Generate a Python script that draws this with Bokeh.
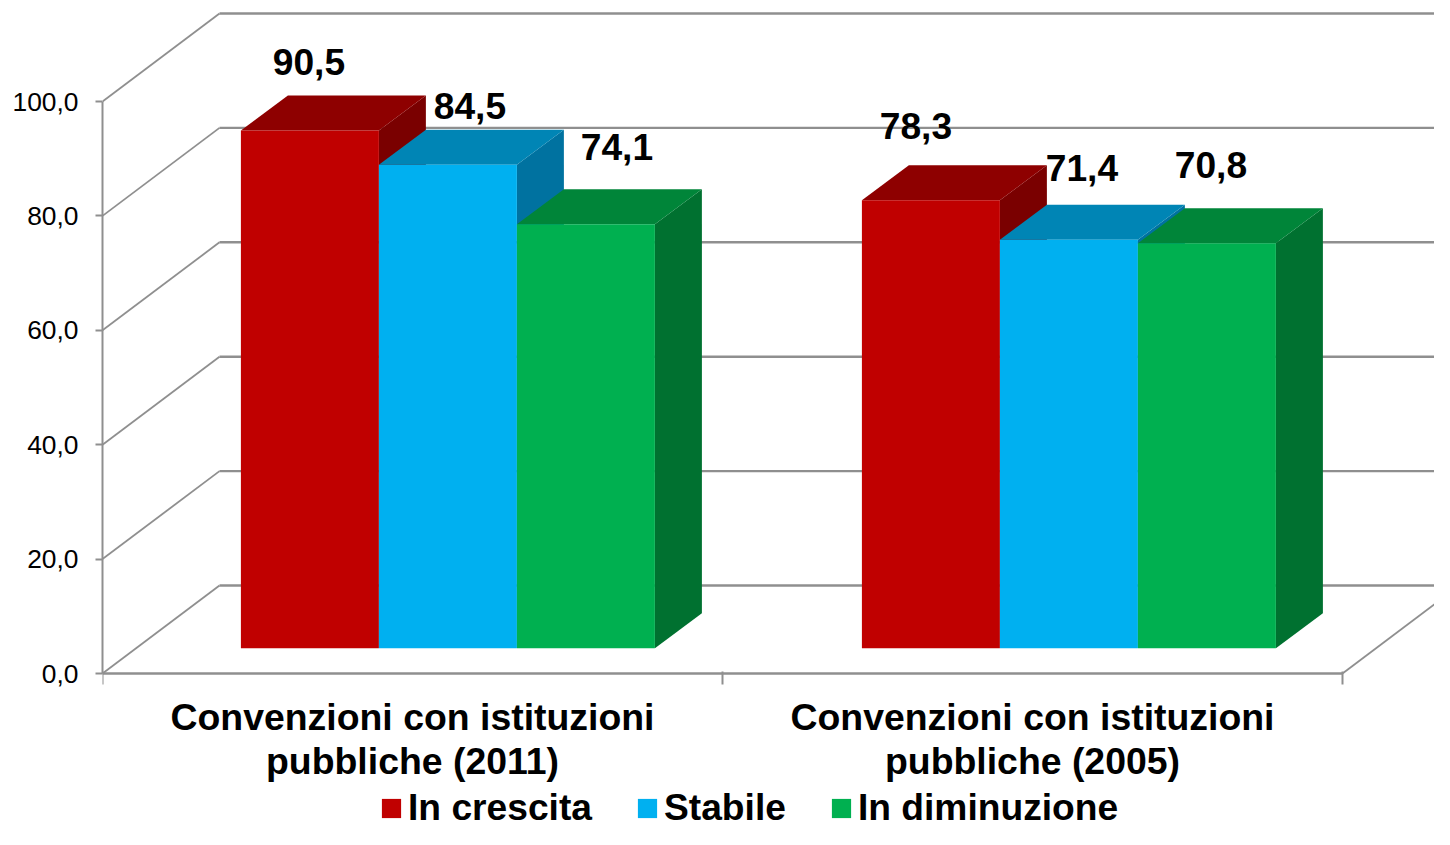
from bokeh.embed import file_html
from bokeh.resources import INLINE
from bokeh.models import ColumnDataSource, FixedTicker, Legend, LegendItem, Range1d
from bokeh.plotting import figure
from bokeh.core.properties import value

categories = ["Convenzioni con istituzioni\npubbliche (2011)", "Convenzioni con istituzioni\npubbliche (2005)"]
series_names = ["In crescita", "Stabile", "In diminuzione"]
in_crescita = [90.5, 78.3]
stabile = [84.5, 71.4]
in_diminuzione = [74.1, 70.8]
y_ticks = [0, 20, 40, 60, 80, 100]
y_labels = ["0,0", "20,0", "40,0", "60,0", "80,0", "100,0"]

FONT = "Liberation Sans"
GRID = "#8f8f8f"
front = ["#C00000", "#00B0F0", "#00B050"]
top = ["#8E0000", "#0085B5", "#008539"]
side = ["#7A0000", "#0072A0", "#007130"]

PX_X, PX_Y = 620.0, 5.72            # pixels per category / per value unit
WALL_DX, WALL_DY = 117 / PX_X, 88 / PX_Y   # depth of the chart box
BAR_DX, BAR_DY = 47 / PX_X, 35 / PX_Y      # depth of each bar
BAR_Y0 = 25.3 / PX_Y                # lift of the bars' front base over the axis
BAR_W = 138 / PX_X
GROUP_START = [138.4 / PX_X, 759.4 / PX_X]
# label offsets from the top front centre of each bar, in pixels (series, group)
LABEL_DX = [[-1, -15], [22, 13], [31, 4]]
LABEL_DY = [[69, 74], [59, 72], [77, 78]]

FRAME_W, FRAME_H = 1332, 829
AXIS_PX = 673                       # pixel row of value 0
p = figure(width=1434, height=829, output_backend="svg", toolbar_location=None,
           x_range=Range1d(0, FRAME_W / PX_X),
           y_range=Range1d((AXIS_PX - FRAME_H) / PX_Y, AXIS_PX / PX_Y),
           frame_width=FRAME_W, frame_height=FRAME_H,
           min_border_left=102, min_border_right=0, min_border_top=0, min_border_bottom=0)
p.outline_line_color = None
p.grid.visible = False
p.background_fill_color = "white"

# axes
ya = p.yaxis[0]
ya.ticker = FixedTicker(ticks=y_ticks, minor_ticks=[])
ya.major_label_overrides = dict(zip(y_ticks, y_labels))
ya.bounds = (0, 100)
ya.axis_line_color = GRID
ya.axis_line_width = 2
ya.major_tick_line_color = GRID
ya.major_tick_line_width = 2
ya.major_tick_out = 7
ya.major_tick_in = 0
ya.major_label_standoff = 17
ya.major_label_text_font = FONT
ya.major_label_text_font_size = "26.4px"
ya.major_label_text_color = "black"

xa = p.xaxis[0]
xa.fixed_location = 0
xa.ticker = FixedTicker(ticks=[0.5, 1.5], minor_ticks=[0, 1, 2])
xa.major_label_overrides = {0.5: categories[0], 1.5: categories[1]}
xa.bounds = (0, 2)
xa.axis_line_color = GRID
xa.axis_line_width = 2.5
xa.major_tick_line_color = None
xa.major_tick_out = 0
xa.major_tick_in = 0
xa.minor_tick_line_color = GRID
xa.minor_tick_line_width = 2
xa.minor_tick_out = 11
xa.minor_tick_in = 2
xa.major_label_standoff = 11
xa.major_label_text_font = FONT
xa.major_label_text_font_style = "bold"
xa.major_label_text_font_size = "37.4px"
xa.major_label_text_color = "black"
xa.major_label_text_line_height = 1.07

# walls
x_end = FRAME_W / PX_X
p.multi_line([[WALL_DX, x_end]] * len(y_ticks), [[t + WALL_DY] * 2 for t in y_ticks],
             line_color=GRID, line_width=2.4)
p.multi_line([[0, WALL_DX]] * len(y_ticks), [[t, t + WALL_DY] for t in y_ticks],
             line_color=GRID, line_width=1.8)
p.line([2, 2 + WALL_DX], [0, WALL_DY], line_color=GRID, line_width=1.8)

# bars, drawn left to right
series = [in_crescita, stabile, in_diminuzione]
legend_items = []
label_x, label_y, label_t, off_x, off_y = [], [], [], [], []
for g in range(2):
    for s, vals in enumerate(series):
        v = vals[g]
        x0 = GROUP_START[g] + s * BAR_W
        x1 = x0 + BAR_W
        y0 = BAR_Y0
        y1 = BAR_Y0 + v
        p.patch([x1, x1 + BAR_DX, x1 + BAR_DX, x1], [y0, y0 + BAR_DY, y1 + BAR_DY, y1],
                fill_color=side[s], line_color=None)
        p.patch([x0, x1, x1 + BAR_DX, x0 + BAR_DX], [y1, y1, y1 + BAR_DY, y1 + BAR_DY],
                fill_color=top[s], line_color=None)
        r = p.quad(left=[x0], right=[x1], bottom=[y0], top=[y1],
                   fill_color=front[s], line_color=None)
        if g == 0:
            legend_items.append(LegendItem(label=series_names[s], renderers=[r]))
        label_x.append((x0 + x1) / 2)
        label_y.append(y1)
        label_t.append(f"{v:.1f}".replace(".", ","))
        off_x.append(LABEL_DX[s][g])
        off_y.append(-LABEL_DY[s][g])

src = ColumnDataSource(dict(x=label_x, y=label_y, t=label_t, ox=off_x, oy=off_y))
p.text(x="x", y="y", text="t", x_offset="ox", y_offset="oy", source=src,
       text_font=value(FONT), text_font_style="bold", text_font_size="37.2px",
       text_color="black", text_align="center", text_baseline="middle")

legend = Legend(items=legend_items, orientation="horizontal", location=(277, 0),
                padding=0, margin=0, spacing=43, label_standoff=5,
                glyph_width=24, glyph_height=24, border_line_color=None,
                background_fill_alpha=0,
                label_text_font=FONT, label_text_font_style="bold",
                label_text_font_size="37.2px", label_text_color="black")
p.add_layout(legend, "center")

open("out.html", "w").write(file_html(p, INLINE))
